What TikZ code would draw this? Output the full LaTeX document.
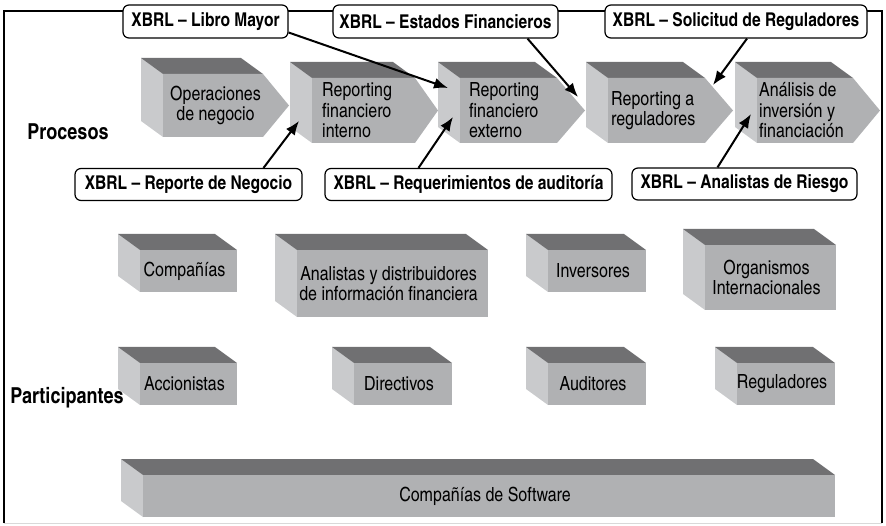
\documentclass[tikz,border=0pt]{standalone}
\usepackage{fontspec}
\setmainfont{texgyreheroscn-regular.otf}[BoldFont=texgyreheroscn-bold.otf]
\usetikzlibrary{arrows.meta}
\definecolor{frontgray}{RGB}{176,177,179}
\definecolor{topgray}{RGB}{112,112,114}
\definecolor{sidegray}{RGB}{201,202,204}
\newcommand{\diagfont}{\fontsize{19.5}{20.5}\selectfont}

\newcommand{\procshape}[9][left]{%
  \fill[sidegray] (#3-22,#4-16) -- (#3,#4) -- (#3,#7) -- (#3-22,#7-16) -- cycle;
  \fill[topgray] (#3-22,#4-16) -- (#5-22,#4-16) -- (#5,#4) -- (#3,#4) -- cycle;
  \fill[frontgray] (#3,#4) -- (#5,#4) -- (#6,{(#4+#7)/2}) -- (#5,#7) -- (#3,#7) -- cycle;
  \node[boxtext,align=#1,anchor=west] (#2) at (#8,{(#4+#7)/2}) {#9};}

\newcommand{\partbox}[6]{%
  \fill[sidegray] (#2-22,#3-16) -- (#2,#3) -- (#2,#5) -- (#2-22,#5-16) -- cycle;
  \fill[topgray] (#2-22,#3-16) -- (#4-22,#3-16) -- (#4,#3) -- (#2,#3) -- cycle;
  \fill[frontgray] (#2,#3) rectangle (#4,#5);
  \node[boxtext] (#1) at ({(#2+#4)/2-4},{(#3+#5)/2}) {#6};}

\begin{document}
\begin{tikzpicture}[x=1pt,y=-1pt,font=\diagfont,
    callout/.style={draw,line width=1.2pt,fill=white,rounded corners=6pt,font=\fontsize{19}{20}\selectfont\bfseries,inner sep=0pt,minimum height=32pt},
    heading/.style={font=\fontsize{22}{24}\selectfont\bfseries},
    boxtext/.style={align=center,inner sep=0pt},
    flow/.style={-{Latex[length=14pt,width=11pt]},line width=2pt}]
\useasboundingbox (0,0) rectangle (886,526);
\draw[line width=1.6pt] (4,523) -- (4,11) -- (882,11) -- (882,523);
\draw[black!15] (4,523) -- (882,523);

\procshape[center]{operaciones}{163}{74}{263}{289}{137}{170}{Operaciones\\de negocio}
\procshape{interno}{312}{78}{415}{438}{143}{322}{Reporting\\financiero\\interno}
\procshape{externo}{460}{78}{557}{585}{143}{469}{Reporting\\financiero\\externo}
\procshape{reporting}{608}{78}{705}{733}{143}{611}{Reporting a\\reguladores}
\procshape{analisis}{757}{78}{853}{880}{143}{759}{Análisis de\\inversión y\\financiación}

\partbox{companias}{140}{250}{237}{292}{Compañías}
\partbox{analistas}{297}{250}{488}{317}{Analistas y distribuidores\\de información financiera}
\partbox{inversores}{548}{250}{646}{292}{Inversores}
\partbox{organismos}{705}{245}{836}{310}{Organismos\\Internacionales}
\partbox{accionistas}{140}{363}{237}{405}{Accionistas}
\partbox{directivos}{354}{363}{452}{405}{Directivos}
\partbox{auditores}{548}{363}{646}{405}{Auditores}
\partbox{reguladores}{737}{363}{835}{405}{Reguladores}
\partbox{software}{143}{475}{835}{517}{Compañías de Software}

\node[heading] (procesos) at (68,132) {Procesos};
\node[heading] (participantes) at (67,398) {Participantes};

\node[callout,minimum width=165pt,minimum height=33pt] (libro) at (205.5,21.5) {XBRL – Libro Mayor};
\node[callout,minimum width=225pt,minimum height=33pt] (estados) at (445.5,21.5) {XBRL – Estados Financieros};
\node[callout,minimum width=262pt,minimum height=33pt] (solicitud) at (736,21.5) {XBRL – Solicitud de Reguladores};
\node[callout,minimum width=227pt] (negocio) at (188.5,184.5) {XBRL – Reporte de Negocio};
\node[callout,minimum width=287pt] (auditoria) at (468.5,184.5) {XBRL – Requerimientos de auditoría};
\node[callout,minimum width=225pt] (riesgo) at (744.5,184) {XBRL – Analistas de Riesgo};

\coordinate (t1) at (448,88);
\coordinate (t2) at (299,121);
\coordinate (t3) at (578,97);
\coordinate (t4) at (453,117);
\coordinate (t5) at (713,85);
\coordinate (t6) at (751,114);

\path[flow]
  ([yshift=-11pt]libro.east) edge (t1)
  ([xshift=75pt]negocio.north) edge (t2)
  ([xshift=82pt]estados.south) edge (t3)
  ([xshift=-50pt]auditoria.north) edge (t4)
  ([xshift=11pt]solicitud.south) edge (t5)
  ([xshift=-27pt]riesgo.north) edge (t6);
\end{tikzpicture}
\end{document}
